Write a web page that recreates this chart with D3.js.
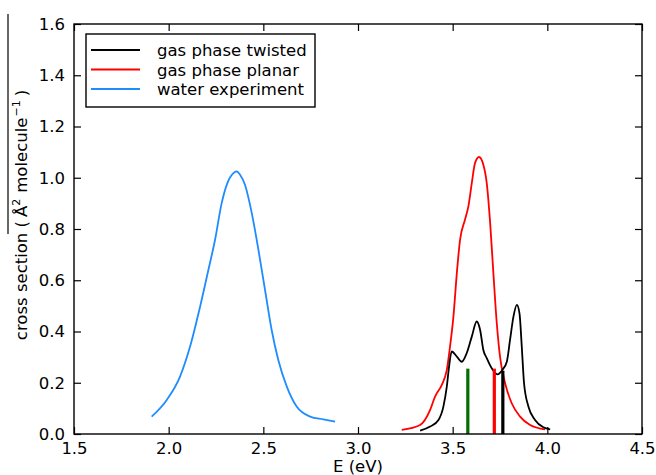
<!DOCTYPE html>
<html>
<head>
<meta charset="utf-8">
<script src="https://cdn.jsdelivr.net/npm/d3@7"></script>
<style>
  html, body { margin: 0; padding: 0; background: #fff; }
  svg { display: block; font-family: "DejaVu Sans", sans-serif; }
</style>
</head>
<body>
<svg id="chart" width="656" height="475"></svg>
<script>
// ---- data ----
const xTicks = [1.5, 2.0, 2.5, 3.0, 3.5, 4.0, 4.5];
const yTicks = [0.0, 0.2, 0.4, 0.6, 0.8, 1.0, 1.2, 1.4, 1.6];
const seriesNames = ["gas phase twisted", "gas phase planar", "water experiment"];

const waterE = [1.910, 1.990, 2.060, 2.113, 2.166, 2.210, 2.245, 2.280, 2.310, 2.342, 2.359, 2.377, 2.403, 2.439, 2.474, 2.509, 2.544, 2.579, 2.624, 2.676, 2.747, 2.817, 2.879];
const waterS = [0.068, 0.133, 0.224, 0.341, 0.497, 0.641, 0.758, 0.901, 0.979, 1.018, 1.025, 1.012, 0.973, 0.862, 0.719, 0.562, 0.406, 0.289, 0.185, 0.107, 0.068, 0.057, 0.048];

const planarE = [3.231, 3.328, 3.381, 3.407, 3.442, 3.469, 3.486, 3.504, 3.522, 3.539, 3.565, 3.583, 3.601, 3.618, 3.639, 3.662, 3.680, 3.698, 3.715, 3.733, 3.750, 3.777, 3.812, 3.856, 3.909, 3.988];
const planarS = [0.016, 0.035, 0.094, 0.146, 0.191, 0.250, 0.341, 0.458, 0.628, 0.758, 0.836, 0.888, 0.979, 1.057, 1.081, 1.051, 0.979, 0.823, 0.628, 0.432, 0.302, 0.198, 0.120, 0.068, 0.035, 0.018];

const twistedE = [3.328, 3.381, 3.425, 3.451, 3.469, 3.481, 3.495, 3.522, 3.548, 3.574, 3.601, 3.627, 3.645, 3.662, 3.680, 3.706, 3.736, 3.765, 3.786, 3.803, 3.821, 3.839, 3.853, 3.865, 3.877, 3.900, 3.935, 3.979, 4.015];
const twistedS = [0.013, 0.029, 0.055, 0.107, 0.185, 0.263, 0.322, 0.302, 0.282, 0.315, 0.380, 0.439, 0.406, 0.328, 0.296, 0.257, 0.233, 0.253, 0.282, 0.367, 0.458, 0.504, 0.471, 0.341, 0.198, 0.107, 0.055, 0.026, 0.018];

const stickE = [3.580, 3.720, 3.765];
const stickS = [0.255, 0.255, 0.247];

// ---- layout / style ----
const colors = { twisted: "#000000", planar: "#ff0000", water: "#1e8cff" };
const stickColors = ["#006f00", "#ff0000", "#000000"];
const L = 74, R = 642, T = 24, B = 434;
const FS = 16.5;

const svg = d3.select("#chart");
const x = d3.scaleLinear().domain([1.5, 4.5]).range([L, R]);
const y = d3.scaleLinear().domain([0, 1.6]).range([B, T]);

const line = d3.line().x(d => x(d[0])).y(d => y(d[1])).curve(d3.curveMonotoneX);
const zip = (a, b) => a.map((v, i) => [v, b[i]]);

const plot = svg.append("g");
plot.append("path").datum(zip(waterE, waterS)).attr("d", line)
  .attr("fill", "none").attr("stroke", colors.water).attr("stroke-width", 1.8);
plot.append("path").datum(zip(planarE, planarS)).attr("d", line)
  .attr("fill", "none").attr("stroke", colors.planar).attr("stroke-width", 1.8);
plot.append("path").datum(zip(twistedE, twistedS)).attr("d", line)
  .attr("fill", "none").attr("stroke", colors.twisted).attr("stroke-width", 1.8);

plot.selectAll("line.stick").data(stickE).enter().append("line")
  .attr("class", "stick")
  .attr("x1", d => x(d)).attr("x2", d => x(d))
  .attr("y1", y(0)).attr("y2", (d, i) => y(stickS[i]))
  .attr("stroke", (d, i) => stickColors[i]).attr("stroke-width", 3.2);

// ---- axes (ticks inward on all sides) ----
const tk = 7;
const fmt = d3.format(".1f");
function styleAxis(g) {
  g.select(".domain").remove();
  g.selectAll(".tick line").attr("stroke", "#000").attr("stroke-width", 1.2);
  g.selectAll(".tick text").attr("fill", "#000").attr("font-size", FS).attr("font-family", "DejaVu Sans");
}
svg.append("g").attr("transform", `translate(0,${B})`)
  .call(d3.axisBottom(x).tickValues(xTicks).tickFormat(fmt).tickSizeInner(-tk).tickSizeOuter(0).tickPadding(5))
  .call(styleAxis)
  .call(g => g.selectAll(".tick text").attr("dy", "0.9em"));
svg.append("g").attr("transform", `translate(0,${T})`)
  .call(d3.axisTop(x).tickValues(xTicks).tickFormat("").tickSizeInner(-tk).tickSizeOuter(0))
  .call(styleAxis);
svg.append("g").attr("transform", `translate(${L},0)`)
  .call(d3.axisLeft(y).tickValues(yTicks).tickFormat(fmt).tickSizeInner(-tk).tickSizeOuter(0).tickPadding(9))
  .call(styleAxis);
svg.append("g").attr("transform", `translate(${R},0)`)
  .call(d3.axisRight(y).tickValues(yTicks).tickFormat("").tickSizeInner(-tk).tickSizeOuter(0))
  .call(styleAxis);

svg.append("rect").attr("x", L).attr("y", T).attr("width", R - L).attr("height", B - T)
  .attr("fill", "none").attr("stroke", "#000").attr("stroke-width", 1.4);

// ---- axis labels ----
svg.append("text").attr("x", (L + R) / 2).attr("y", 472).attr("text-anchor", "middle")
  .attr("font-size", FS).attr("fill", "#000").text("E (eV)");

const yl = svg.append("text")
  .attr("transform", "translate(27,215) rotate(-90)")
  .attr("text-anchor", "middle").attr("font-size", FS).attr("fill", "#000");
yl.append("tspan").text("cross section (");
yl.append("tspan").attr("dx", 4).text("Å");
yl.append("tspan").attr("dy", -7).attr("font-size", 11).text("2");
yl.append("tspan").attr("dy", 7).attr("dx", 6).text("molecule");
yl.append("tspan").attr("dy", -7).attr("dx", 1).attr("font-size", 11).text("−1");
yl.append("tspan").attr("dy", 7).attr("dx", 4).text(")");
svg.append("line").attr("x1", 8).attr("x2", 8).attr("y1", 14).attr("y2", 234)
  .attr("stroke", "#000").attr("stroke-width", 1.2);

// ---- legend ----
const leg = svg.append("g");
leg.append("rect").attr("x", 86).attr("y", 34).attr("width", 229).attr("height", 73)
  .attr("fill", "#fff").attr("stroke", "#000").attr("stroke-width", 1.4);
const legColors = [colors.twisted, colors.planar, colors.water];
const rowY = [50, 69.5, 89];
seriesNames.forEach((name, i) => {
  leg.append("line").attr("x1", 91).attr("x2", 140).attr("y1", rowY[i]).attr("y2", rowY[i])
    .attr("stroke", legColors[i]).attr("stroke-width", 1.8);
  leg.append("text").attr("x", 157).attr("y", rowY[i] + 6).attr("font-size", FS)
    .attr("fill", "#000").text(name);
});
</script>
</body>
</html>
